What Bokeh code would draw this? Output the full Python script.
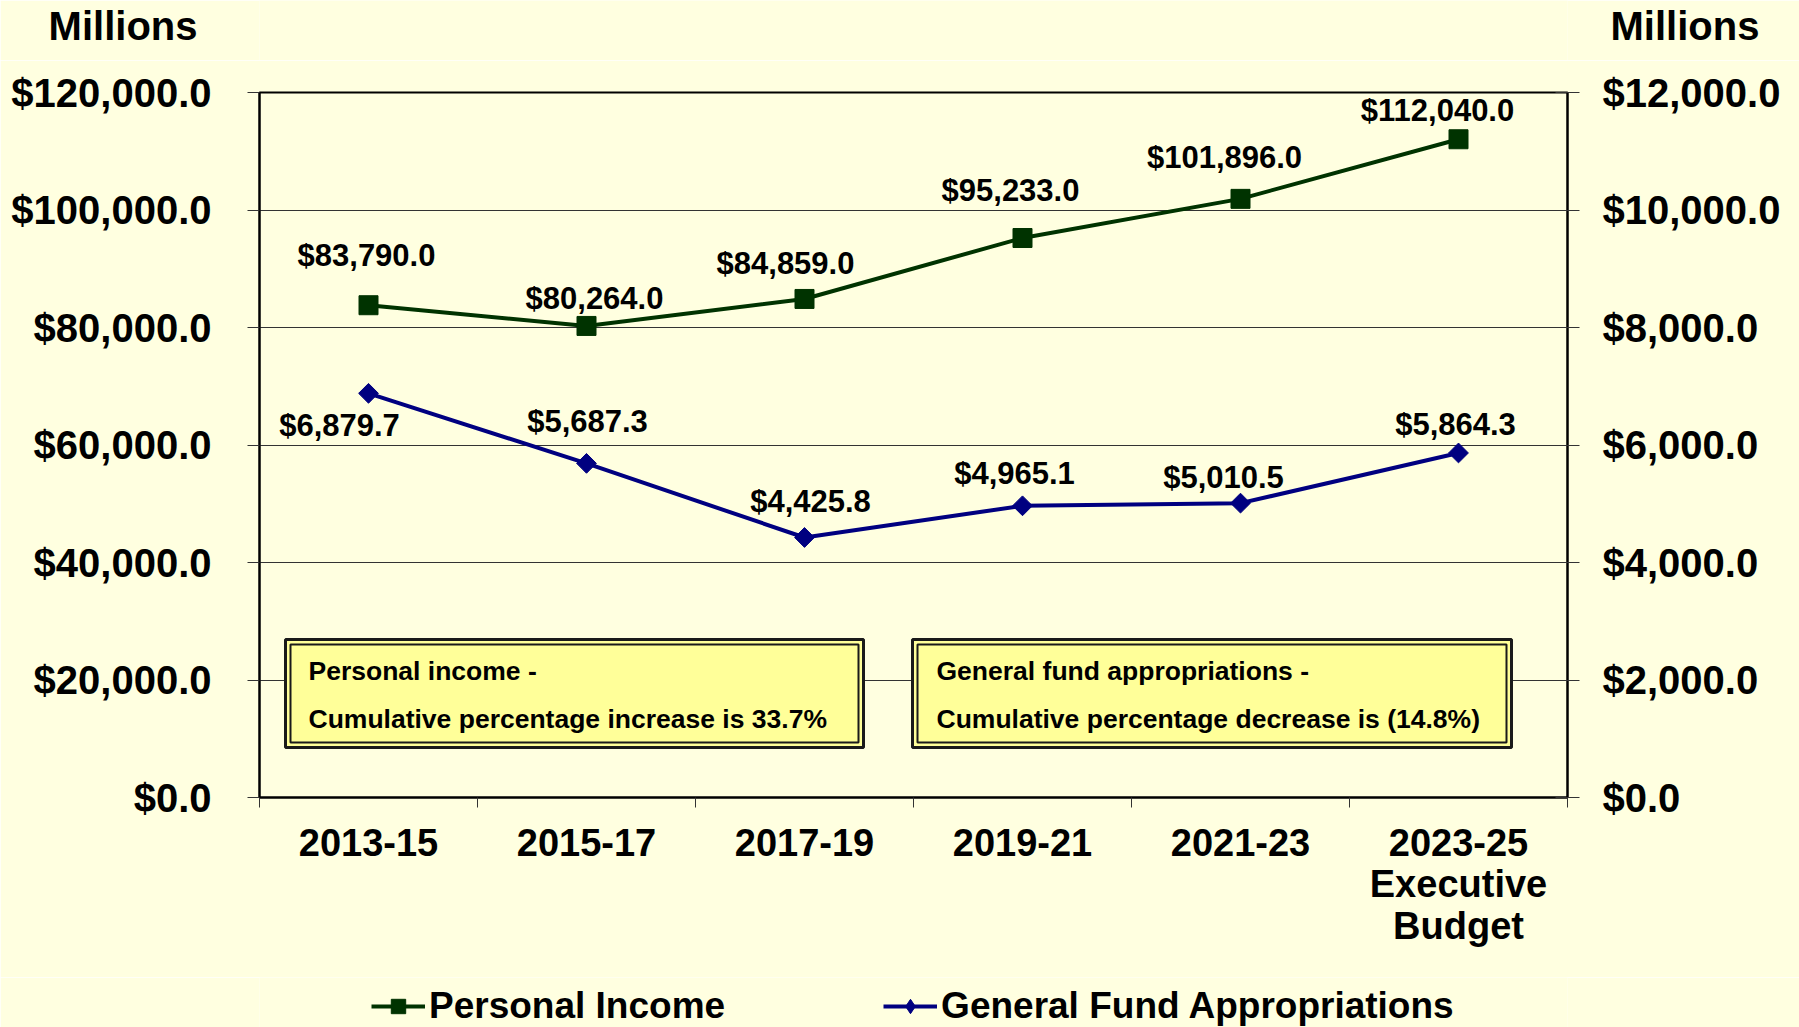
from bokeh.plotting import figure
from bokeh.layouts import column
from bokeh.models import (Range1d, LinearAxis, FixedTicker, NumeralTickFormatter,
                          Legend, LegendItem, Label, BoxAnnotation, ColumnDataSource)
from bokeh.embed import file_html
from bokeh.resources import INLINE
from bokeh.core.properties import value
import numpy as np

# ---------------- data ----------------
categories = ["2013-15", "2015-17", "2017-19", "2019-21", "2021-23", "2023-25\nExecutive\nBudget"]
personal_income = [83790.0, 80264.0, 84859.0, 95233.0, 101896.0, 112040.0]
gf_appropriations = [6879.7, 5687.3, 4425.8, 4965.1, 5010.5, 5864.3]
left_ticks = [0, 20000, 40000, 60000, 80000, 100000, 120000]
right_ticks = [0, 2000, 4000, 6000, 8000, 10000, 12000]
series_names = ["Personal Income", "General Fund Appropriations"]
unit_title = "Millions"
box_texts = [["Personal income -", "Cumulative percentage increase is 33.7%"],
             ["General fund appropriations -", "Cumulative percentage decrease is (14.8%)"]]

# label nudges in screen pixels (negative y = up)
pi_dx = [-2, 8, -19, -12, -16, -21]
pi_dy = [-50, -27, -35, -48, -41, -29]
gf_dx = [-29, 1, 6, -8, -17, -3]
gf_dy = [32, -42, -36, -32, -26, -28]

# ---------------- style ----------------
FONT = "Liberation Sans"
BG = "#FFFFE0"
GREEN = "#003300"
NAVY = "#000080"
BOXFILL = "#FFFF99"
EDGE = "#1a1a1a"

W = 1799
HEAD_H = 60            # header strip (unit titles)
MAIN_H = 917           # main chart
FOOT_H = 1027 - HEAD_H - MAIN_H   # legend strip
PFL, PFR, PFT, PFB = 259, 1567, 92, 797   # frame edges in page px
LEFT_MAX = 120000.0
n = len(categories)


def dx(page_x):   # page x pixel -> x data
    return (page_x - PFL) * n / (PFR - PFL)


def dy(page_y):   # page y pixel -> left-axis data
    return (PFB - page_y) * LEFT_MAX / (PFB - PFT)


def strip(height):
    f = figure(width=W, height=height, x_range=Range1d(0, 1), y_range=Range1d(height, 0),
               output_backend="svg", toolbar_location=None, x_axis_type=None,
               y_axis_type=None, min_border_left=PFL, min_border_right=W - PFR,
               min_border_top=0, min_border_bottom=0)
    f.outline_line_color = None
    f.background_fill_color = BG
    f.border_fill_color = BG
    f.grid.visible = False
    return f


# ---------------- header: unit titles as tick labels ----------------
head = strip(HEAD_H)
for side, standoff in (("left", 56), ("right", 37)):
    ax = LinearAxis(ticker=FixedTicker(ticks=[25]), major_label_overrides={25: unit_title})
    ax.major_tick_line_color = None
    ax.minor_tick_line_color = None
    ax.axis_line_color = None
    ax.major_label_standoff = standoff
    ax.major_label_text_font = FONT
    ax.major_label_text_font_style = "bold"
    ax.major_label_text_font_size = "40px"
    ax.major_label_text_color = "black"
    head.add_layout(ax, side)

# ---------------- main chart ----------------
p = figure(width=W, height=MAIN_H, x_range=Range1d(0, n), y_range=Range1d(0, LEFT_MAX),
           output_backend="svg", toolbar_location=None,
           min_border_left=PFL, min_border_right=W - PFR, min_border_top=PFT - HEAD_H,
           min_border_bottom=HEAD_H + MAIN_H - PFB)
p.extra_y_ranges = {"right": Range1d(0, 12000)}
p.background_fill_color = BG
p.border_fill_color = BG
p.outline_line_color = "black"
p.outline_line_width = 2

xs = [i + 0.5 for i in range(n)]

p.xaxis.ticker = FixedTicker(ticks=xs, minor_ticks=list(range(n + 1)))
p.xaxis.major_label_overrides = {x: c for x, c in zip(xs, categories)}
p.xaxis.major_tick_out = 0
p.xaxis.major_tick_in = 0
p.xaxis.minor_tick_out = 10
p.xaxis.minor_tick_in = 0
p.xaxis.minor_tick_line_color = "#333333"
p.xaxis.axis_line_color = "black"
p.xaxis.axis_line_width = 2
p.xaxis.major_label_standoff = 14
p.xaxis.major_label_text_font = FONT
p.xaxis.major_label_text_font_style = "bold"
p.xaxis.major_label_text_font_size = "38px"
p.xaxis.major_label_text_color = "black"
p.xaxis.major_label_text_line_height = 0.99

p.yaxis.ticker = FixedTicker(ticks=left_ticks)
p.yaxis.formatter = NumeralTickFormatter(format="$0,0.0")

right_axis = LinearAxis(y_range_name="right", ticker=FixedTicker(ticks=right_ticks),
                        formatter=NumeralTickFormatter(format="$0,0.0"))
p.add_layout(right_axis, "right")

for ax, standoff, tin in ((p.yaxis[0], 36, 0), (right_axis, 23, 12)):
    ax.major_tick_out = 12
    ax.major_tick_in = tin
    ax.major_tick_line_color = "#333333"
    ax.axis_line_color = "black"
    ax.axis_line_width = 2
    ax.minor_tick_line_color = None
    ax.major_label_standoff = standoff
    ax.major_label_text_font = FONT
    ax.major_label_text_font_style = "bold"
    ax.major_label_text_font_size = "40px"
    ax.major_label_text_color = "black"

p.xgrid.visible = False
p.ygrid.ticker = FixedTicker(ticks=left_ticks)
p.ygrid.grid_line_color = "#333333"
p.ygrid.grid_line_width = 1

pi_src = ColumnDataSource(dict(x=xs, y=personal_income,
                               lab=[f"${v:,.1f}" for v in personal_income],
                               dx=pi_dx, dy=pi_dy))
gf_src = ColumnDataSource(dict(x=xs, y=gf_appropriations,
                               lab=[f"${v:,.1f}" for v in gf_appropriations],
                               dx=gf_dx, dy=gf_dy))

p.line("x", "y", source=pi_src, line_color=GREEN, line_width=4)
p.scatter("x", "y", source=pi_src, marker="square", size=19,
          fill_color=GREEN, line_color=GREEN)
p.line("x", "y", source=gf_src, y_range_name="right", line_color=NAVY, line_width=4)
p.scatter("x", "y", source=gf_src, y_range_name="right", marker="square",
          angle=np.pi / 4, size=14, fill_color=NAVY, line_color=NAVY)

for src, rng in ((pi_src, "default"), (gf_src, "right")):
    p.text("x", "y", text="lab", source=src, y_range_name=rng,
           x_offset="dx", y_offset="dy",
           text_font=value(FONT), text_font_style="bold", text_font_size="31px",
           text_color="black", text_align="center", text_baseline="middle")

# note boxes (double border)
boxes = [(285, 863), (912, 1511)]
box_top, box_bot = 639, 747
text_x = [308, 936]
for (bl, br), tx, lines in zip(boxes, text_x, box_texts):
    p.add_layout(BoxAnnotation(left=dx(bl), right=dx(br), top=dy(box_top), bottom=dy(box_bot),
                               fill_color=BOXFILL, fill_alpha=1.0,
                               line_color=EDGE, line_alpha=1.0, line_width=3))
    p.add_layout(BoxAnnotation(left=dx(bl + 5), right=dx(br - 5), top=dy(box_top + 5),
                               bottom=dy(box_bot - 5), fill_alpha=0,
                               line_color=EDGE, line_alpha=1.0, line_width=2))
    for ty, t in zip((670, 718), lines):
        p.add_layout(Label(x=dx(tx), y=dy(ty), text=t, text_font=FONT,
                           text_font_style="bold", text_font_size="26.5px",
                           text_color="black", text_baseline="middle", text_align="left"))

# ---------------- legend strip ----------------
# proxy renderers kept off-frame (x < 0) so only their legend swatches show
foot = strip(FOOT_H)
px_off = [-3, -2]
py_off = [10, 10]
l1 = foot.line(px_off, py_off, line_color=GREEN, line_width=4)
m1 = foot.scatter(px_off, py_off, marker="square", size=19, fill_color=GREEN, line_color=GREEN)
l2 = foot.line(px_off, py_off, line_color=NAVY, line_width=4)
m2 = foot.scatter(px_off, py_off, marker="diamond", size=22,
                  fill_color=NAVY, line_color=NAVY)
legend = Legend(items=[LegendItem(label=series_names[0], renderers=[l1, m1]),
                       LegendItem(label=series_names[1], renderers=[l2, m2])],
                orientation="horizontal", location=(371 - PFL, 0),
                label_text_font=FONT, label_text_font_style="bold",
                label_text_font_size="37px", label_text_color="black",
                glyph_width=54, glyph_height=36, label_standoff=4, spacing=158,
                padding=0, margin=0, background_fill_alpha=0, border_line_alpha=0)
foot.add_layout(legend, "center")

p = column(head, p, foot, spacing=0)
open("out.html", "w").write(file_html(p, INLINE))
